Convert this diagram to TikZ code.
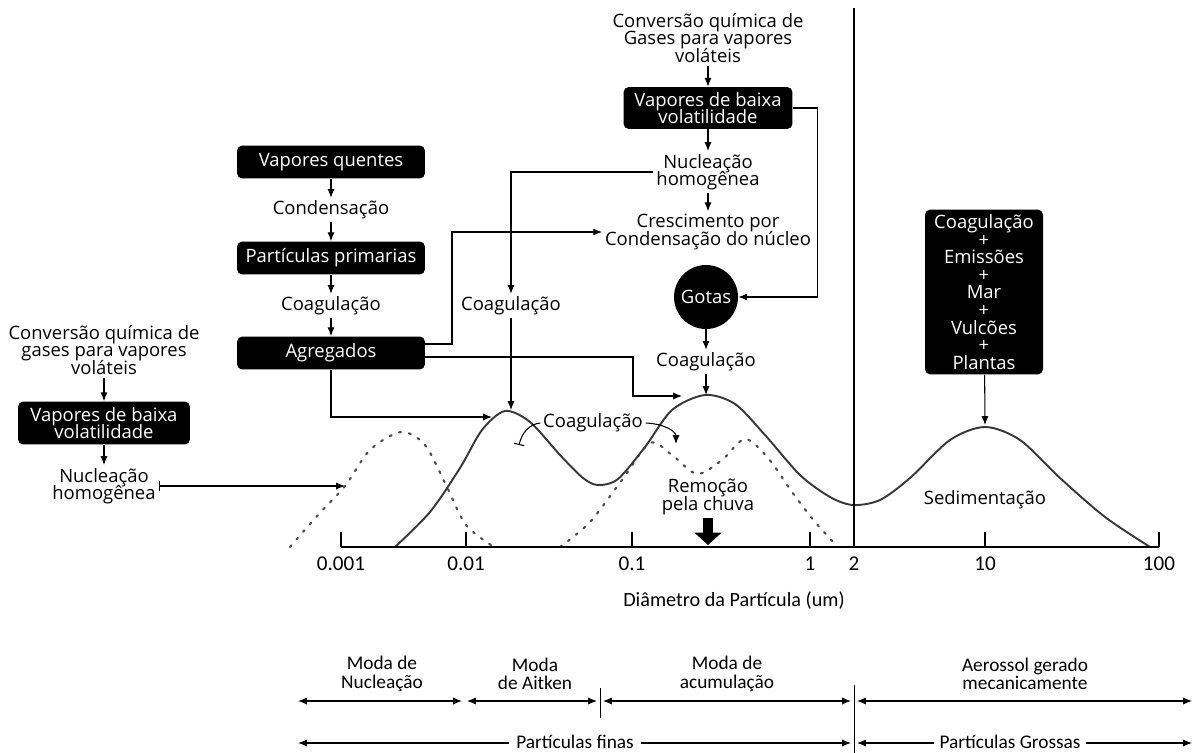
\documentclass[tikz,border=0pt]{standalone}
\usepackage{fontspec}
\setmainfont{Open Sans}
\newfontfamily\narrowfont{Carlito}
\usetikzlibrary{arrows.meta, positioning, calc}
\newcommand\flowfont{\fontsize{10.5}{10}\selectfont\lineskiplimit=-8pt\relax}
\newcommand\axisfont{\narrowfont\fontsize{12}{12}\selectfont}
\newcommand\modefont{\narrowfont\fontsize{11}{10.5}\selectfont\lineskiplimit=-8pt\relax}

\begin{document}
\begin{tikzpicture}[x=0.02cm, y=-0.02cm,
  font=\flowfont,
  blackbox/.style={fill=black, text=white, rounded corners=3pt, align=center, inner sep=2pt},
  lbl/.style={align=center, inner sep=1.5pt},
  axlbl/.style={font=\axisfont, align=center, inner sep=1pt},
  modelbl/.style={font=\modefont, align=center, inner sep=1pt},
  arr/.style={-{Latex[length=5pt,width=4pt]}, line width=0.6pt},
  dbl/.style={{Latex[length=5pt,width=4pt]}-{Latex[length=5pt,width=4pt]}, line width=0.6pt},
  sizecurve/.style={line width=1.1pt, draw=black!78},
  dotcurve/.style={line width=1.2pt, draw=black!70, dash pattern=on 1.2pt off 4.5pt, line cap=round}]
\useasboundingbox (0,0) rectangle (1196,753);

% Left column
\node[lbl] (conv1) at (104,350) {Conversão química de\\gases para vapores\\voláteis};
\node[blackbox, minimum width=3.44cm, minimum height=0.86cm] (vbv1) at (104,423) {Vapores de baixa\\volatilidade};
\node[lbl] (nuc1) at (104,486) {Nucleação\\homogênea};
\coordinate (d1) at (345,486);
\draw[arr] (conv1) -- (vbv1);
\draw[arr] (vbv1) -- (nuc1);
\draw[{Bar[width=6pt]}-{Latex[length=5pt,width=4pt]}, line width=0.6pt] (nuc1.east) -- (d1);

% Hot vapours column
\node[blackbox, minimum width=3.76cm, minimum height=0.66cm] (vq) at (331,162) {Vapores quentes};
\node[lbl] (cond) at (331,210) {Condensação};
\node[blackbox, minimum width=3.76cm, minimum height=0.66cm] (pp) at (331,258) {Partículas primarias};
\node[lbl] (coag1) at (331,306) {Coagulação};
\node[blackbox, minimum width=3.76cm, minimum height=0.66cm] (agr) at (331,353) {Agregados};
\draw[arr] (vq) -- (cond);
\draw[arr] (cond) -- (pp);
\draw[arr] (pp) -- (coag1);
\draw[arr] (coag1) -- (agr);

% Top column
\node[lbl] (conv2) at (708,38) {Conversão química de\\Gases para vapores\\voláteis};
\node[blackbox, minimum width=3.38cm, minimum height=0.84cm] (vbv2) at (708,108) {Vapores de baixa\\volatilidade};
\node[lbl] (nuc2) at (708,172) {Nucleação\\homogênea};
\node[lbl] (cresc) at (708,232) {Crescimento por\\Condensação do núcleo};
\node[circle, fill=black, text=white, minimum size=1.28cm, inner sep=0pt] (gotas) at (706,297) {Gotas};
\node[lbl] (coag3) at (706,362) {Coagulação};
\draw[arr] (conv2) -- (vbv2);
\draw[arr] (vbv2) -- (nuc2);
\draw[arr] (nuc2) -- (cresc);
\draw[arr] (vbv2.east) -- ++(25,0) |- (gotas.east);
\draw[arr] (gotas) -- (coag3);

% Middle coagulation
\node[lbl] (coag2) at (511,306) {Coagulação};
\draw[arr] (nuc2.west) -| (coag2.north);

% Peaks
\coordinate (pk1) at (511,410);
\coordinate (pk1l) at (492,417);
\coordinate (pk2) at (706,395);
\coordinate (pk2l) at (682,396);
\coordinate (pk3) at (985,425);
\draw[arr] (coag2) -- (pk1);
\draw[arr] (coag3) -- (pk2);
\draw[arr] ($(agr.east)+(0,-9)$) -- (452,344) |- (cresc.west);
\draw[arr] ($(agr.east)+(0,4)$) -| (633,396) -- (pk2l);
\draw[arr] (agr.south) |- (pk1l);

% Coarse sources
\node[blackbox, minimum width=2.36cm, minimum height=3.3cm] (fontes) at (984,292) {Coagulação\\+\\Emissões\\+\\Mar\\+\\Vulcões\\+\\Plantas};
\draw[arr] (fontes) -- (pk3);

% Size distribution
\draw[dotcurve] plot[smooth] coordinates {(290,547) (318,515) (345,486) (370,450) (401,432) (425,445) (446,485) (466,525) (494,547)};
\draw[dotcurve] plot[smooth] coordinates {(560,547) (590,522) (622,480) (650,443) (672,455) (697,474) (722,460) (745,439) (768,458) (792,492) (815,522) (838,547)};
\draw[sizecurve] plot[smooth] coordinates {(395,547) (430,512) (460,468) (482,430) (505,411) (530,422) (560,455) (583,478) (598,485) (618,479) (645,447) (672,410) (705,395) (735,404) (765,435) (800,475) (830,497) (853,505) (880,500) (910,478) (950,440) (985,427) (1020,440) (1060,478) (1105,517) (1150,547)};

% Coagulation between modes
\node[lbl] (coagm) at (593,423) {Coagulação};
\coordinate (cl) at (519,445);
\coordinate (cr) at (676,444);
\draw[-{Bar[width=6pt]}, line width=0.6pt] (coagm.west) .. controls (530,424) and (522,432) .. (cl);
\draw[arr] (coagm.east) .. controls (666,424) and (676,432) .. (cr);

% Rain removal
\node[lbl] (rem) at (708,497) {Remoção\\pela chuva};
\coordinate (remtip) at (708,545);
\draw[line width=5.5pt, -{Triangle[width=15pt,length=7pt]}] (rem.south) -- (remtip);

\node[lbl] (sed) at (985,500) {Sedimentação};

% Axis
\draw[line width=0.8pt] (341,547) -- (1159,547);
\foreach \x/\t in {341/0.001, 466/0.01, 632/0.1, 810/1, 985/10, 1159/100} {
  \draw[line width=0.6pt] (\x,547) -- (\x,532);
  \node[axlbl] at (\x,564) {\t};
}
\node[axlbl] at (854,564) {2};
\draw[line width=0.6pt] (854,8) -- (854,548);
\node[axlbl, font=\narrowfont\fontsize{11.5}{11.5}\selectfont] (diam) at (734,601) {Diâmetro da Partícula (um)};

% Modes
\node[modelbl] (mnuc) at (382,674) {Moda de\\Nucleação};
\node[modelbl] (mait) at (535,674) {Moda\\de Aitken};
\node[modelbl] (macu) at (727,674) {Moda de\\acumulação};
\node[modelbl] (maer) at (1025,674) {Aerossol gerado\\mecanicamente};
\coordinate (m0) at (298,701);
\coordinate (m1) at (462,701);
\coordinate (m2) at (467,701);
\coordinate (m3) at (597,701);
\coordinate (m4) at (603,701);
\coordinate (m5) at (851,701);
\coordinate (m6) at (857,701);
\coordinate (m7) at (1192,701);
\foreach \a/\b in {m0/m1, m2/m3, m4/m5, m6/m7}
  \draw[dbl] (\a) -- (\b);
\draw[line width=0.5pt] (600,688) -- (600,718);
\draw[line width=0.5pt] (854,685) -- (854,753);

% Fine and coarse
\coordinate (f0) at (298,743);
\coordinate (f1) at (851,743);
\coordinate (g0) at (857,743);
\coordinate (g1) at (1192,743);
\draw[dbl] (f0) -- (f1);
\draw[dbl] (g0) -- (g1);
\node[modelbl, fill=white, inner xsep=4pt, inner ysep=0pt] (finas) at (575,742) {Partículas finas};
\node[modelbl, fill=white, inner xsep=3pt, inner ysep=0pt] (grossas) at (1010,742) {Partículas Grossas};
\end{tikzpicture}
\end{document}
